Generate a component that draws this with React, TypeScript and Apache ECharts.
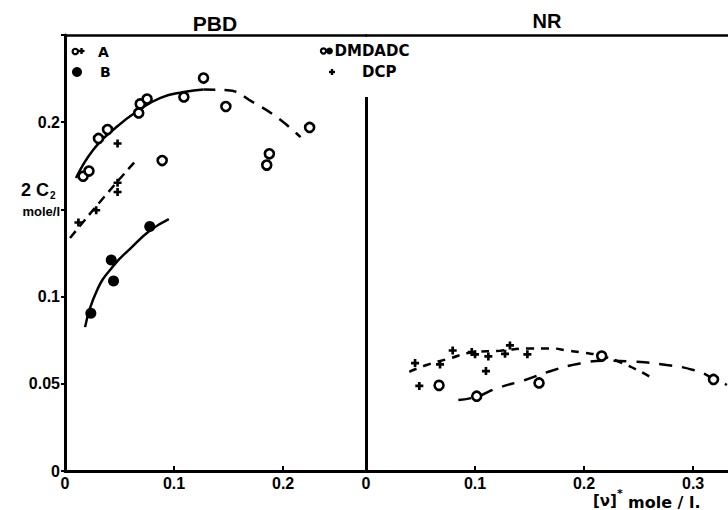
import React, { useEffect, useRef } from "react";
import * as echarts from "echarts";

// ---- data (x = [v]* mole/l, y = 2C2 mole/l) ----
const pbdOpenCircles: number[][] = [
  [0.0166, 0.169], [0.022, 0.172], [0.0307, 0.1907], [0.039, 0.1958],
  [0.0676, 0.2053], [0.069, 0.2105], [0.0753, 0.2133], [0.109, 0.2145],
  [0.127, 0.2253], [0.1475, 0.209], [0.0891, 0.178], [0.1874, 0.1819],
  [0.185, 0.1754], [0.2243, 0.197],
];
const pbdCrosses: number[][] = [
  [0.0123, 0.1425], [0.0286, 0.1495], [0.0482, 0.16], [0.0482, 0.1653], [0.0482, 0.1878],
];
const pbdFilled: number[][] = [
  [0.0237, 0.0905], [0.0424, 0.121], [0.0445, 0.109], [0.0777, 0.1402],
];
const pbdCurveSolid: number[][] = [
  [0.0101, 0.168], [0.0261, 0.1844], [0.0445, 0.1958], [0.0661, 0.2063],
  [0.0876, 0.2139], [0.109, 0.2173], [0.127, 0.2187],
];
const pbdCurveDashed: number[][] = [
  [0.127, 0.2187], [0.149, 0.2183], [0.1736, 0.211], [0.195, 0.2025], [0.216, 0.1914],
];
const pbdCrossCurve: number[][] = [
  [0.0046, 0.1336], [0.0353, 0.1567], [0.066, 0.1787],
];
const pbdFilledCurve: number[][] = [
  [0.0184, 0.0825], [0.0292, 0.1034], [0.0445, 0.1177], [0.0599, 0.1275],
  [0.0777, 0.1377], [0.0952, 0.1444],
];
const nrOpenCircles: number[][] = [
  [0.067, 0.0491], [0.1015, 0.0429], [0.1587, 0.0505], [0.2162, 0.0659], [0.3187, 0.0525],
];
const nrCrosses: number[][] = [
  [0.045, 0.0619], [0.0489, 0.0488], [0.0679, 0.0611], [0.0795, 0.0691],
  [0.097, 0.0682], [0.1, 0.0669], [0.1122, 0.0657], [0.11, 0.0573],
  [0.1275, 0.0672], [0.132, 0.072], [0.148, 0.0669],
];
const nrCrossCurve: number[][] = [
  [0.0397, 0.0569], [0.0557, 0.0608], [0.077, 0.0646], [0.0954, 0.0678],
  [0.123, 0.069], [0.15, 0.0703], [0.169, 0.0703], [0.1856, 0.069],
  [0.2, 0.0678], [0.216, 0.066], [0.239, 0.0608], [0.2606, 0.054],
];
const nrCircleCurve: number[][] = [
  [0.0847, 0.0407], [0.1015, 0.0426], [0.12, 0.0474], [0.1459, 0.0522],
  [0.1703, 0.0575], [0.1963, 0.0617], [0.2208, 0.0632], [0.2453, 0.0627],
  [0.2758, 0.0608], [0.3003, 0.0579], [0.3187, 0.0532], [0.331, 0.0493],
];
const dividerLine: number[][] = [[0, 0], [0, 0.2145]];
const yTickLabels: Record<string, string> = { "0": "0", "0.05": "0.05", "0.1": "0.1", "0.15": "{m|mole/l}", "0.2": "0.2", "0.25": "" };
const xTickLabels: Record<string, string> = { "0": "0", "0.1": "0.1", "0.2": "0.2", "0.3": "0.3" };

const FONT = '"Liberation Sans", Arial, sans-serif';
const FONT2 = '"DejaVu Sans", sans-serif';
const PLUS = "path://M3,0H6V3H9V6H6V9H3V6H0V3H3Z";

const xFmt = (v: number) => {
  const k = String(Math.round(v * 100) / 100);
  return xTickLabels[k] ?? "";
};
const yFmt = (v: number) => {
  const k = String(Math.round(v * 100) / 100);
  return yTickLabels[k] ?? "";
};

const bottomAxis = (gridIndex: number, max: number) => ({
  gridIndex,
  type: "value",
  min: 0,
  max,
  interval: 0.1,
  position: "bottom",
  axisLine: { show: true, onZero: false, lineStyle: { color: "#000", width: 3 } },
  axisTick: { show: true, inside: true, length: 5, lineStyle: { color: "#000", width: 2 } },
  axisLabel: {
    showMaxLabel: false,
    formatter: xFmt,
    color: "#000",
    fontFamily: FONT,
    fontWeight: "bold",
    fontSize: 16,
    margin: 4,
  },
  splitLine: { show: false },
});
const topAxis = (gridIndex: number, max: number) => ({
  gridIndex,
  type: "value",
  min: 0,
  max,
  position: "top",
  axisLine: { show: true, onZero: false, lineStyle: { color: "#000", width: 2.5 } },
  axisTick: { show: false },
  axisLabel: { show: false },
  splitLine: { show: false },
});

const lineSeries = (data: number[][], xi: number, dash: any, width = 2.5) => ({
  type: "line",
  xAxisIndex: xi,
  yAxisIndex: xi,
  data,
  smooth: 0.5,
  symbol: "none",
  showSymbol: false,
  silent: true,
  z: 2,
  lineStyle: { color: "#000", width, type: dash, opacity: 1 },
});

const scatter = (data: number[][], xi: number, kind: "open" | "filled" | "plus") => ({
  type: "scatter",
  xAxisIndex: xi,
  yAxisIndex: xi,
  data,
  z: 5,
  symbol: kind === "plus" ? PLUS : "circle",
  symbolSize: kind === "plus" ? 8 : kind === "filled" ? 11 : 9,
  itemStyle:
    kind === "open"
      ? { color: "#fff", borderColor: "#000", borderWidth: 2.6, opacity: 1 }
      : { color: "#000", borderWidth: 0, opacity: 1 },
});

const txt = (x: number, y: number, text: string, size: number, align = "left", family = FONT) => ({
  type: "text",
  x,
  y,
  style: {
    text,
    fill: "#000",
    font: `bold ${size}px ${family}`,
    align,
    verticalAlign: "middle",
  },
});
const plusGfx = (cx: number, cy: number) => [
  { type: "rect", shape: { x: cx - 3, y: cy - 1.2, width: 6, height: 2.4 }, style: { fill: "#000" } },
  { type: "rect", shape: { x: cx - 1.2, y: cy - 3, width: 2.4, height: 6 }, style: { fill: "#000" } },
];

export default function App() {
  const ref = useRef<HTMLDivElement>(null);
  useEffect(() => {
    if (!ref.current) return;
    const chart = echarts.init(ref.current, null, { renderer: "svg" });
    const option: any = {
      animation: false,
      backgroundColor: "#fff",
      grid: [
        { left: 65, top: 35, width: 301, height: 436 },
        { left: 366, top: 35, width: 362, height: 436 },
      ],
      xAxis: [bottomAxis(0, 0.276), bottomAxis(1, 0.332), topAxis(0, 0.276), topAxis(1, 0.332)],
      yAxis: [
        {
          gridIndex: 0,
          type: "value",
          min: 0,
          max: 0.25,
          interval: 0.05,
          axisLine: { show: true, onZero: false, lineStyle: { color: "#000", width: 3 } },
          axisTick: { show: true, inside: false, length: 4, lineStyle: { color: "#000", width: 2 } },
          axisLabel: {
            formatter: yFmt,
            color: "#000",
            fontFamily: FONT,
            fontWeight: "bold",
            fontSize: 16,
            margin: 5,
            rich: { m: { fontFamily: FONT, fontWeight: "bold", fontSize: 13, color: "#000", padding: [5, 0, 0, 0] } },
          },
          splitLine: { show: false },
        },
        { gridIndex: 1, type: "value", min: 0, max: 0.25, show: false },
      ],
      series: [
        lineSeries(pbdCurveSolid, 0, "solid"),
        lineSeries(pbdCurveDashed, 0, [12, 9]),
        lineSeries(pbdCrossCurve, 0, [9, 6]),
        lineSeries(pbdFilledCurve, 0, "solid"),
        scatter(pbdOpenCircles, 0, "open"),
        scatter(pbdCrosses, 0, "plus"),
        scatter(pbdFilled, 0, "filled"),
        lineSeries(nrCrossCurve, 1, [8, 7]),
        lineSeries(nrCircleCurve, 1, [13, 10]),
        {
          ...scatter(nrOpenCircles, 1, "open"),
          markLine: {
            silent: true,
            symbol: ["none", "none"],
            label: { show: false },
            lineStyle: { color: "#000", width: 3, type: "solid", opacity: 1 },
            data: [[{ coord: dividerLine[0] }, { coord: dividerLine[1] }]],
          },
        },
        scatter(nrCrosses, 1, "plus"),
      ],
      graphic: [
        txt(215, 23, "PBD", 21, "center"),
        txt(547, 21, "NR", 20, "center"),
        // legend left
        { type: "circle", shape: { cx: 75.3, cy: 51.5, r: 2.7 }, style: { fill: "#fff", stroke: "#000", lineWidth: 2.2 } },
        ...plusGfx(81.5, 51),
        txt(98, 52, "A", 14, "left", FONT2),
        { type: "circle", shape: { cx: 77, cy: 72, r: 5 }, style: { fill: "#000" } },
        txt(100, 72, "B", 14, "left", FONT2),
        // legend right
        { type: "circle", shape: { cx: 323.5, cy: 51, r: 2.6 }, style: { fill: "#fff", stroke: "#000", lineWidth: 2.2 } },
        { type: "circle", shape: { cx: 329.5, cy: 51, r: 3.4 }, style: { fill: "#000" } },
        txt(334.5, 51, "DMDADC", 15, "left", FONT2),
        ...plusGfx(332, 72),
        txt(362, 72, "DCP", 15, "left", FONT2),
        // y axis name
        txt(21, 190, "2 C", 18, "left"),
        txt(50, 195, "2", 10, "left"),
        // x axis name
        txt(593, 501, "[ν]", 15, "left", FONT2),
        txt(617, 493, "*", 11, "left", FONT2),
        txt(628, 502, "mole / l.", 16, "left", FONT2),
      ],
    };
    chart.setOption(option);
    return () => chart.dispose();
  }, []);
  return (
    <div
      ref={ref}
      style={{ position: "fixed", left: 0, top: 0, width: 728, height: 510, background: "#fff" }}
    />
  );
}
